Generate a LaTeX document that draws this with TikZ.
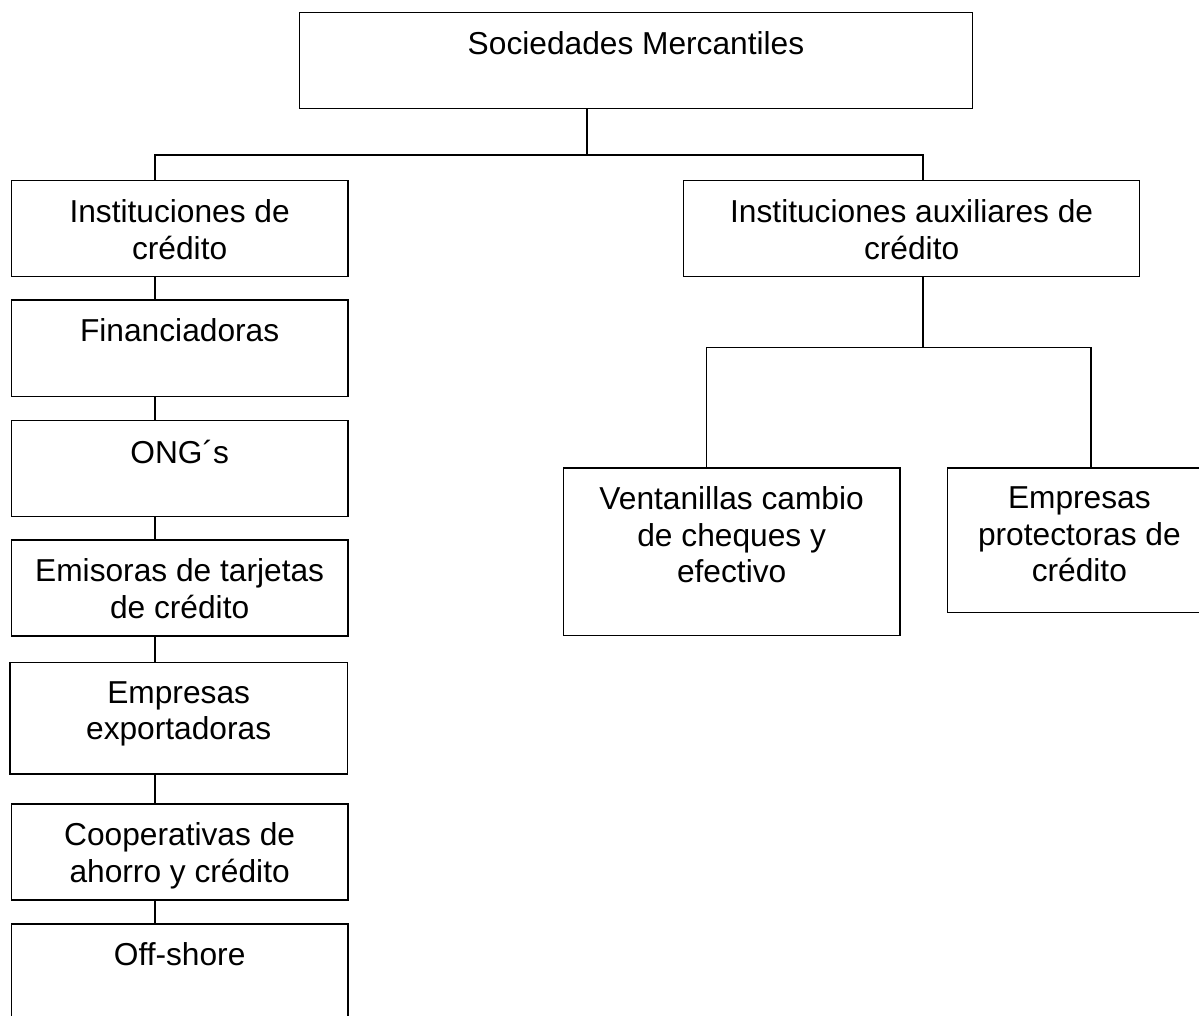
\documentclass[tikz,border=0pt]{standalone}
\usepackage{fontspec}
\setmainfont{Liberation Sans}
\tikzstyle{caja}=[draw, line width=1.3pt, inner sep=0pt, anchor=north west]
\tikzstyle{texto}=[anchor=north, yshift=-19.5pt, inner sep=0pt, align=center, font=\fontsize{31.7}{36.5}\selectfont]
\tikzstyle{linea}=[line width=1.3pt]

\begin{document}
\begin{tikzpicture}[x=1pt, y=-1pt]
        \useasboundingbox (0,0) rectangle (1199,1015);
        \node[caja, minimum width=672.7pt, minimum height=96pt, label={[texto]north:Sociedades Mercantiles}] (soc) at (299, 11.7) {};
        \node[caja, minimum width=336.6pt, minimum height=95.7pt, label={[texto]north:Instituciones de\\crédito}] (inst) at (10.7, 180) {};
        \node[caja, minimum width=336.6pt, minimum height=96.4pt, label={[texto]north:Financiadoras}] (fin) at (10.7, 299.3) {};
        \node[caja, minimum width=336.6pt, minimum height=95.7pt, label={[texto]north:ONG´s}] (ong) at (10.7, 420) {};
        \node[caja, minimum width=336.6pt, minimum height=96pt, label={[texto]north:Emisoras de tarjetas\\de crédito}] (emi) at (10.7, 539.3) {};
        \node[caja, minimum width=337.4pt, minimum height=111.6pt, label={[texto]north:Empresas\\exportadoras}] (exp) at (9.3, 661.7) {};
        \node[caja, minimum width=336.6pt, minimum height=96pt, label={[texto]north:Cooperativas de\\ahorro y crédito}] (coop) at (10.7, 803.3) {};
        \node[caja, minimum width=336.6pt, minimum height=96pt, label={[texto]north:Off-shore}] (off) at (10.7, 923.3) {};
        \node[caja, minimum width=456pt, minimum height=95.7pt, label={[texto]north:Instituciones auxiliares de\\crédito}] (aux) at (683, 180) {};
        \node[caja, minimum width=336.6pt, minimum height=167.7pt, label={[texto]north:Ventanillas cambio\\de cheques y\\efectivo}] (vent) at (562.7, 467.3) {};
        \node[caja, minimum width=264pt, minimum height=144.4pt, label={[texto]north:Empresas\\protectoras de\\crédito}] (prot) at (946.7, 467.3) {};
        \coordinate (bus) at (587, 155);
        \coordinate (busI) at (155, 155);
        \coordinate (busA) at (923, 155);
        \coordinate (busB) at (923, 347.7);
        \coordinate (busV) at (706.7, 347.7);
        \coordinate (busP) at (1091, 347.7);
        \draw[linea] (soc.south -| bus) -- (bus);
        \draw[linea] (inst.north -| busI) -- (busI) -- (busA) -- (aux.north -| busA);
        \foreach \a/\b in {inst/fin, fin/ong, ong/emi, emi/exp, exp/coop, coop/off}
            \draw[linea] (\a.south -| busI) -- (\b.north -| busI);
        \draw[linea] (aux.south -| busB) -- (busB);
        \draw[linea] (vent.north -| busV) -- (busV) -- (busP) -- (prot.north -| busP);
    \end{tikzpicture}
\end{document}
